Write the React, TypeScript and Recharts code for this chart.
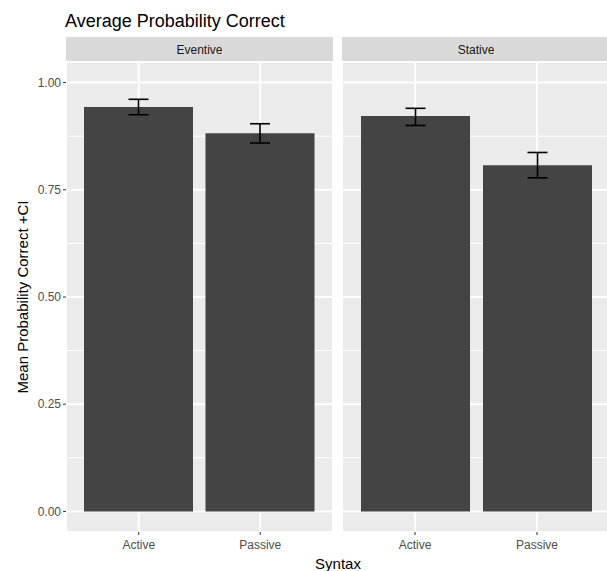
import { BarChart, Bar, XAxis, YAxis, CartesianGrid, ErrorBar } from "recharts";

const syntax = ["Active", "Passive"];
const facets = ["Eventive", "Stative"];

const eventiveMean = [0.943, 0.882];
const eventiveLower = [0.925, 0.859];
const eventiveUpper = [0.961, 0.904];

const stativeMean = [0.922, 0.807];
const stativeLower = [0.9, 0.778];
const stativeUpper = [0.94, 0.837];

const yTicks = [0, 0.25, 0.5, 0.75, 1];
const yMinor = [0.125, 0.375, 0.625, 0.875];
const Y_MIN = -0.048;
const Y_MAX = 1.048;

const FONT = '"Liberation Sans", Arial, Helvetica, sans-serif';
const PANEL_BG = "#EBEBEB";
const STRIP_BG = "#D9D9D9";

const makeRows = (mean: number[], lower: number[], upper: number[]) =>
  syntax.map((s, i) => ({
    syntax: s,
    mean: mean[i],
    err: [mean[i] - lower[i], upper[i] - mean[i]],
  }));

// minor grid lines: use the axis scale when recharts hands it over, else map through the same domain
const minorLines = ({ yAxis, offset }: any) => {
  const sc =
    yAxis && typeof yAxis.scale === "function"
      ? yAxis.scale
      : (v: number) => offset.top + (offset.height * (Y_MAX - v)) / (Y_MAX - Y_MIN);
  return yMinor.map((v) => sc(v));
};

function Panel({
  rows,
  width,
  showY,
}: {
  rows: { syntax: string; mean: number; err: number[] }[];
  width: number;
  showY: boolean;
}) {
  return (
    <BarChart
      width={width}
      height={571}
      data={rows}
      margin={{ top: 62, right: 0, bottom: 0, left: 0 }}
      barSize={109}
    >
      <CartesianGrid
        fill={PANEL_BG}
        stroke="#FFFFFF"
        strokeWidth={1}
        vertical={false}
        horizontalCoordinatesGenerator={minorLines}
      />
      <CartesianGrid stroke="#FFFFFF" strokeWidth={2} />
      <XAxis
        dataKey="syntax"
        height={39}
        padding={{ left: 12, right: 12 }}
        axisLine={false}
        tickSize={3}
        tickMargin={5}
        tickLine={{ stroke: "#333333" }}
        tick={{ fill: "#4D4D4D", fontSize: 12, fontFamily: FONT }}
      />
      <YAxis
        hide={!showY}
        width={66}
        domain={[Y_MIN, Y_MAX]}
        ticks={yTicks}
        allowDataOverflow
        axisLine={false}
        tickSize={3}
        tickMargin={2}
        tickLine={{ stroke: "#333333" }}
        tick={{ fill: "#4D4D4D", fontSize: 12, fontFamily: FONT }}
        tickFormatter={(v) => Number(v).toFixed(2)}
      />
      <Bar dataKey="mean" fill="#444444" isAnimationActive={false}>
        <ErrorBar
          dataKey="err"
          direction="y"
          width={10}
          stroke="#000000"
          strokeWidth={1.6}
          isAnimationActive={false}
        />
      </Bar>
    </BarChart>
  );
}

export default function App() {
  const eventive = makeRows(eventiveMean, eventiveLower, eventiveUpper);
  const stative = makeRows(stativeMean, stativeLower, stativeUpper);

  const strip = (label: string, left: number, w: number) => (
    <div
      style={{
        position: "absolute",
        left,
        top: 37,
        width: w,
        height: 25,
        background: STRIP_BG,
        color: "#1A1A1A",
        fontSize: 12,
        display: "flex",
        alignItems: "center",
        justifyContent: "center",
      }}
    >
      {label}
    </div>
  );

  return (
    <div
      style={{
        position: "absolute",
        left: 0,
        top: 0,
        width: 607,
        height: 571,
        overflow: "hidden",
        background: "#FFFFFF",
        fontFamily: FONT,
      }}
    >
      <div
        style={{
          position: "absolute",
          left: 65,
          top: 12,
          fontSize: 18,
          lineHeight: "18px",
          color: "#000000",
          whiteSpace: "nowrap",
        }}
      >
        Average Probability Correct
      </div>

      {strip(facets[0], 66, 267)}
      {strip(facets[1], 342, 268)}

      <div style={{ position: "absolute", left: 0, top: 0 }}>
        <Panel rows={eventive} width={333} showY />
      </div>
      <div style={{ position: "absolute", left: 342, top: 0 }}>
        <Panel rows={stative} width={268} showY={false} />
      </div>

      <div
        style={{
          position: "absolute",
          left: 21.5,
          top: 297,
          transform: "translate(-50%, -50%) rotate(-90deg)",
          fontSize: 15,
          whiteSpace: "nowrap",
          color: "#000000",
        }}
      >
        Mean Probability Correct +CI
      </div>
      <div
        style={{
          position: "absolute",
          left: 338,
          top: 563,
          transform: "translate(-50%, -50%)",
          fontSize: 15,
          whiteSpace: "nowrap",
          color: "#000000",
        }}
      >
        Syntax
      </div>
    </div>
  );
}
